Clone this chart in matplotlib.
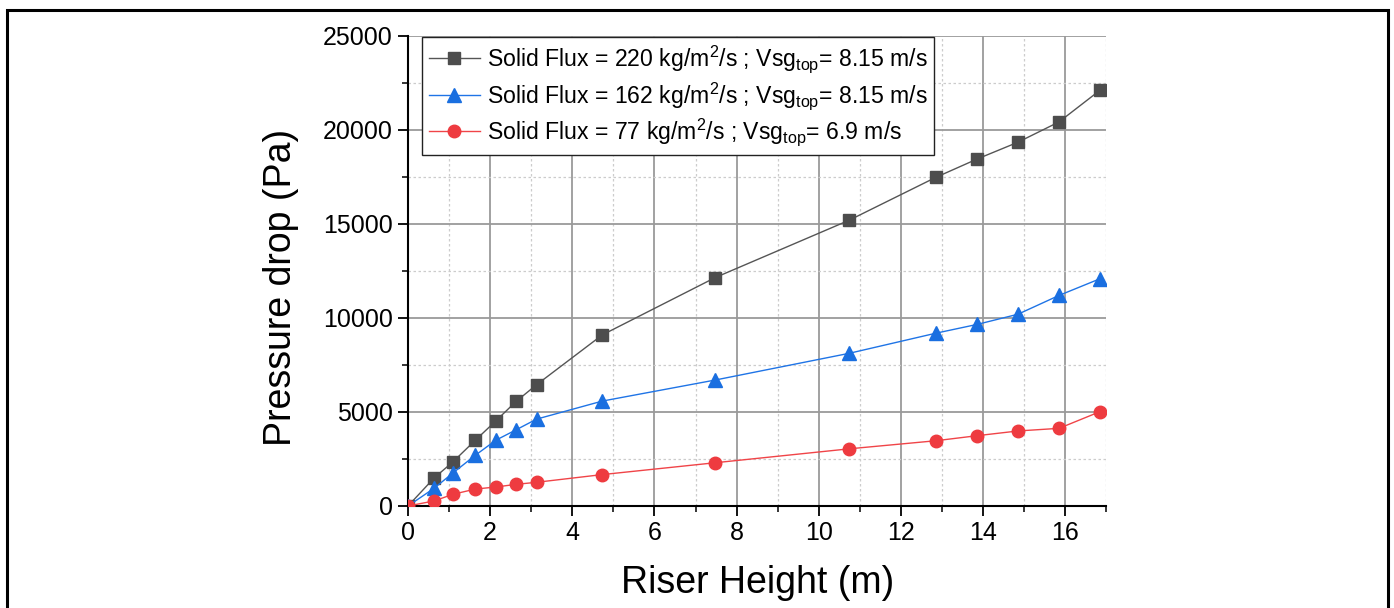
import numpy as np
import matplotlib
matplotlib.use("Agg")
import matplotlib.pyplot as plt
from matplotlib.patches import Rectangle
from matplotlib.ticker import MultipleLocator

plt.rcParams['font.family'] = ['Liberation Sans', 'DejaVu Sans']
plt.rcParams['mathtext.fontset'] = 'custom'
plt.rcParams['mathtext.rm'] = 'Liberation Sans'
plt.rcParams['mathtext.it'] = 'Liberation Sans'

# riser height (m)
height = [0, 0.64, 1.09, 1.64, 2.14, 2.63, 3.13, 4.73, 7.48, 10.74, 12.85, 13.86, 14.85, 15.85, 16.85]

# pressure drop (Pa)
dp_220 = [0, 1500, 2340, 3500, 4530, 5560, 6450, 9100, 12150, 15200, 17480, 18460, 19350, 20430, 22120]
dp_162 = [0, 950, 1750, 2700, 3500, 4050, 4620, 5580, 6700, 8120, 9190, 9660, 10200, 11200, 12090]
dp_77 = [0, 270, 620, 900, 1010, 1150, 1260, 1670, 2300, 3040, 3470, 3740, 3990, 4130, 5020]

labels = [r'Solid Flux = 220 kg/m$^{2}$/s ; Vsg$_{\mathrm{top}}$= 8.15 m/s',
          r'Solid Flux = 162 kg/m$^{2}$/s ; Vsg$_{\mathrm{top}}$= 8.15 m/s',
          r'Solid Flux = 77 kg/m$^{2}$/s ; Vsg$_{\mathrm{top}}$= 6.9 m/s']

fig = plt.figure(figsize=(13.94, 6.08), dpi=100)
ax = fig.add_axes([0.2927, 0.1678, 0.5009, 0.7730])

ax.plot(height, dp_220, color='#555555', lw=1.0, marker='s', ms=8,
        mfc='#4d4d4d', mec='#4d4d4d', label=labels[0], zorder=3)
ax.plot(height, dp_162, color='#1f74e6', lw=1.0, marker='^', ms=10,
        mfc='#1a6fe0', mec='#1a6fe0', label=labels[1], zorder=3)
ax.plot(height, dp_77, color='#f04448', lw=1.0, marker='o', ms=9,
        mfc='#ee3b40', mec='#ee3b40', label=labels[2], zorder=3)

ax.set_xlim(0, 17)
ax.set_ylim(0, 25000)
ax.xaxis.set_major_locator(MultipleLocator(2))
ax.xaxis.set_minor_locator(MultipleLocator(1))
ax.yaxis.set_major_locator(MultipleLocator(5000))
ax.yaxis.set_minor_locator(MultipleLocator(2500))

ax.grid(which='major', color='#9a9a9a', lw=1.3, ls='-')
ax.grid(which='minor', color='#cccccc', lw=0.9, ls=(0, (2, 2)))
ax.set_axisbelow(True)

for s in ['top', 'right']:
    ax.spines[s].set_visible(False)
for s in ['left', 'bottom']:
    ax.spines[s].set_linewidth(1.5)

ax.tick_params(which='major', direction='out', length=7, width=1.3, labelsize=18, pad=4)
ax.tick_params(which='minor', direction='out', length=4, width=1.1)

ax.set_xlabel('Riser Height (m)', fontsize=27, labelpad=14)
ax.set_ylabel('Pressure drop (Pa)', fontsize=27)
ax.yaxis.set_label_coords(-0.156, 0.466)

leg = ax.legend(loc='upper left', bbox_to_anchor=(0.02, 0.998), borderaxespad=0,
                fontsize=16.6, fancybox=False, framealpha=1, edgecolor='#222222',
                handlelength=2.2, labelspacing=0.2, borderpad=0.3, handletextpad=0.3)
leg.get_frame().set_linewidth(1.0)

# outer frame around the figure
fig.patches.append(Rectangle((7 / 1394, -0.05), 1381 / 1394, 1.05 - 10 / 608,
                             transform=fig.transFigure, fill=False,
                             edgecolor='black', lw=2.2, clip_on=False))

fig.savefig('out.png', dpi=100)
